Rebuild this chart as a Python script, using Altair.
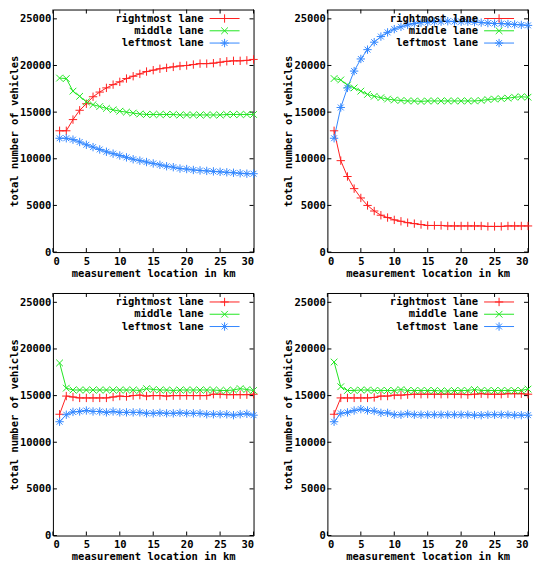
import altair as alt
import pandas as pd

km = list(range(1, 31))
lanes = ["rightmost lane", "middle lane", "leftmost lane"]
colors = ["#ff2020", "#22e622", "#3388ff"]
shapes = [
    "M-1,0L1,0M0,-1L0,1",
    "M-0.8,-0.8L0.8,0.8M-0.8,0.8L0.8,-0.8",
    "M-1,0L1,0M0,-1L0,1M-0.7,-0.7L0.7,0.7M-0.7,0.7L0.7,-0.7",
]
x_ticks = [0, 5, 10, 15, 20, 25, 30]
y_ticks = [0, 5000, 10000, 15000, 20000, 25000]

# panel 1 (top left)
p1_right = [13000, 13000, 14200, 15200, 15900, 16650, 17150, 17600, 17950, 18250,
            18600, 18850, 19100, 19350, 19500, 19650, 19750, 19850, 19950, 20000,
            20100, 20200, 20200, 20250, 20350, 20450, 20500, 20500, 20550, 20650]
p1_middle = [18650, 18600, 17250, 16700, 16100, 15800, 15600, 15400, 15250, 15100,
             15000, 14900, 14800, 14750, 14750, 14750, 14750, 14750, 14700, 14700,
             14700, 14700, 14700, 14700, 14700, 14750, 14750, 14750, 14750, 14750]
p1_left = [12200, 12200, 12050, 11800, 11500, 11250, 11000, 10750, 10550, 10350,
           10150, 9950, 9800, 9650, 9500, 9350, 9200, 9100, 8950, 8900,
           8800, 8750, 8700, 8650, 8600, 8550, 8500, 8450, 8400, 8400]

# panel 2 (top right)
p2_right = [13000, 9800, 8100, 6800, 5800, 5000, 4400, 3950, 3700, 3450,
            3300, 3150, 3050, 2950, 2850, 2850, 2850, 2800, 2800, 2800,
            2800, 2800, 2800, 2750, 2750, 2750, 2800, 2800, 2800, 2800]
p2_middle = [18600, 18450, 17900, 17600, 17250, 16900, 16700, 16550, 16400, 16300,
             16250, 16200, 16200, 16150, 16200, 16200, 16200, 16200, 16200, 16200,
             16200, 16200, 16250, 16350, 16400, 16450, 16500, 16600, 16650, 16600]
p2_left = [12200, 15500, 17600, 19400, 20700, 21700, 22500, 23100, 23550, 23900,
           24150, 24350, 24500, 24600, 24650, 24700, 24700, 24750, 24700, 24700,
           24700, 24650, 24600, 24550, 24500, 24500, 24450, 24400, 24350, 24300]

# panel 3 (bottom left)
p3_right = [13000, 14950, 14850, 14750, 14750, 14750, 14750, 14750, 14850, 14950,
            14900, 15000, 15050, 14950, 15000, 15000, 14950, 15000, 15000, 15000,
            15000, 15000, 15000, 15150, 15150, 15100, 15100, 15100, 15100, 15150]
p3_middle = [18500, 15800, 15600, 15600, 15600, 15600, 15600, 15600, 15600, 15600,
             15600, 15600, 15550, 15750, 15650, 15600, 15600, 15550, 15600, 15600,
             15600, 15600, 15600, 15600, 15550, 15550, 15600, 15750, 15650, 15550]
p3_left = [12200, 12950, 13250, 13300, 13400, 13300, 13300, 13200, 13300, 13200,
           13200, 13200, 13200, 13100, 13100, 13150, 13100, 13100, 13150, 13100,
           13100, 13100, 13000, 13000, 13000, 13000, 12900, 13000, 13050, 12900]

# panel 4 (bottom right)
p4_right = [13000, 14750, 14750, 14750, 14750, 14750, 14800, 14950, 14950, 15050,
            15050, 15100, 15150, 15150, 15150, 15150, 15150, 15150, 15150, 15150,
            15100, 15150, 15200, 15150, 15150, 15150, 15200, 15200, 15200, 15150]
p4_middle = [18600, 15950, 15550, 15550, 15600, 15600, 15550, 15550, 15550, 15550,
             15650, 15550, 15550, 15550, 15550, 15550, 15500, 15500, 15550, 15550,
             15550, 15650, 15550, 15550, 15550, 15550, 15550, 15550, 15550, 15700]
p4_left = [12200, 13100, 13200, 13400, 13550, 13400, 13350, 13150, 13150, 12950,
           12950, 13050, 12950, 12950, 12950, 12950, 12950, 12950, 12950, 12950,
           12950, 12900, 12900, 12950, 12950, 12950, 12950, 12900, 12900, 12900]

W, H = 201, 243
FONT = "DejaVu Sans Mono"
FS = 10.5

x_enc = alt.X("km:Q", scale=alt.Scale(domain=[0, 30], nice=False, zero=False),
              axis=alt.Axis(values=x_ticks, title="measurement location in km",
                            labelPadding=4, titlePadding=2, format="d"))
y_enc = alt.Y("n:Q", scale=alt.Scale(domain=[0, 26000], nice=False),
              axis=alt.Axis(values=y_ticks, title="total number of vehicles",
                            labelPadding=2, titlePadding=0, format="d"))
col_enc = alt.Color("lane:N", scale=alt.Scale(domain=lanes, range=colors), legend=None)
shape_enc = alt.Shape("lane:N", scale=alt.Scale(domain=lanes, range=shapes), legend=None)


def panel(right, middle, left):
    rows = []
    for lane, vals in zip(lanes, [right, middle, left]):
        for k, v in zip(km, vals):
            rows.append({"km": k, "n": v, "lane": lane})
    df = pd.DataFrame(rows)
    base = alt.Chart(df)
    lines = base.mark_line(strokeWidth=1).encode(
        x=x_enc, y=y_enc, color=col_enc, detail="lane:N",
        order="km:Q")
    pts = base.mark_point(filled=False, strokeWidth=1, size=70, opacity=1).encode(
        x=x_enc, y=y_enc, color=col_enc, shape=shape_enc)

    xt = alt.Chart(pd.DataFrame({"km": x_ticks}))
    yt = alt.Chart(pd.DataFrame({"n": y_ticks}))
    tb = xt.mark_rule(color="black", strokeWidth=1).encode(
        x=x_enc, y=alt.value(H), y2=alt.value(H - 4))
    tt = xt.mark_rule(color="black", strokeWidth=1).encode(
        x=x_enc, y=alt.value(0), y2=alt.value(4))
    tl = yt.mark_rule(color="black", strokeWidth=1).encode(
        y=y_enc, x=alt.value(0), x2=alt.value(4))
    tr = yt.mark_rule(color="black", strokeWidth=1).encode(
        y=y_enc, x=alt.value(W - 4), x2=alt.value(W))

    layers = [tb, tt, tl, tr, lines, pts]
    for i, lane in enumerate(lanes):
        yy = 9 + 12.3 * i
        ld = alt.Chart(pd.DataFrame({"lane": [lane]}))
        layers.append(ld.mark_text(align="right", baseline="middle", font=FONT,
                                   fontSize=FS, fontWeight="bold", color="black").encode(
            x=alt.value(W - 50), y=alt.value(yy), text="lane:N"))
        layers.append(ld.mark_rule(color=colors[i], strokeWidth=1).encode(
            x=alt.value(W - 44), x2=alt.value(W - 14), y=alt.value(yy)))
        layers.append(ld.mark_point(shape=shapes[i], color=colors[i], filled=False,
                                    strokeWidth=1, size=70, opacity=1).encode(
            x=alt.value(W - 29), y=alt.value(yy)))
    return alt.layer(*layers).properties(width=W, height=H)


chart = alt.concat(
    panel(p1_right, p1_middle, p1_left),
    panel(p2_right, p2_middle, p2_left),
    panel(p3_right, p3_middle, p3_left),
    panel(p4_right, p4_middle, p4_left),
    columns=2,
    spacing=alt.RowColnumber(row=41, column=74),
    bounds="flush",
).properties(
    padding={"left": 0, "top": 0, "right": 0, "bottom": 0},
    background="white",
).configure_view(
    stroke="black", strokeWidth=1
).configure_axis(
    domain=False, ticks=False, grid=False,
    labelFont=FONT, labelFontSize=FS, labelFontWeight="bold", labelColor="black",
    titleFont=FONT, titleFontSize=FS, titleFontWeight="bold", titleColor="black",
)

chart.save("out.html", embed_options={"renderer": "svg", "actions": False})
